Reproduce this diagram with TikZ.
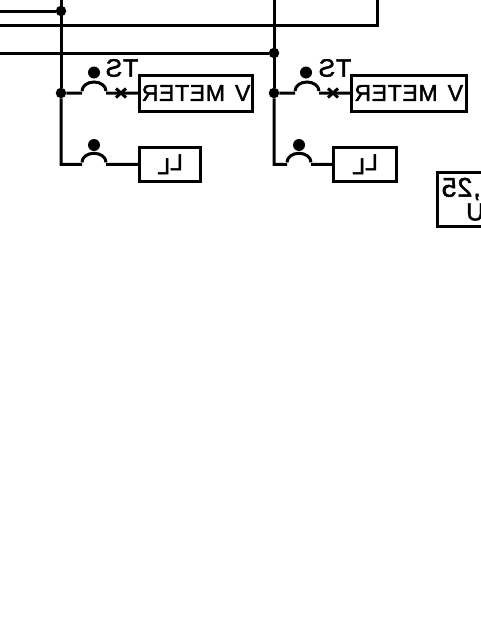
\documentclass[tikz,border=0pt]{standalone}
\usepackage{graphicx}
\usepackage{fontspec}
\usetikzlibrary{calc}
\setmainfont[FakeBold=1.6,LetterSpace=3]{Liberation Sans}
\tikzset{
  wire/.style={draw=black,line width=3pt},
  boxnode/.style={draw=black,line width=3pt,rectangle,inner sep=0pt,outer sep=0pt,anchor=north west,font=\fontsize{23}{23}\selectfont},
  junction/.style={circle,fill=black,inner sep=0pt,minimum size=10.5pt},
  lamp/.style={circle,fill=black,inner sep=0pt,minimum size=12pt},
  lbl/.style={inner sep=0pt,font=\fontsize{25}{25}\selectfont},
  biglbl/.style={inner sep=0pt,font=\fontsize{27}{27}\selectfont},
}
\newcommand{\mir}[1]{\scalebox{-1}[1]{#1}}
\begin{document}
\begin{tikzpicture}[x=1pt,y=-1pt]
\useasboundingbox (0,0) rectangle (480,640);
% junctions and free ends
\node[junction] (j1) at (61,11) {};
\node[junction] (j2) at (61,93) {};
\node[junction] (j3) at (274,53) {};
\node[junction] (j4) at (274,93) {};
\coordinate (t1) at (61,0);
\coordinate (t2) at (274,0);
\coordinate (t3) at (377,0);
\coordinate (l1) at (0,11);
\coordinate (l2) at (0,25);
\coordinate (l3) at (0,53);
\coordinate (c1) at (377,25);
\coordinate (b1) at (61,164.25);
\coordinate (b2) at (274,164.25);
% boxes
\node[boxnode,minimum width=113.5pt,minimum height=36pt] (vm1) at (139.3,75) {\mir{V\hspace{3pt} METER}};
\node[boxnode,minimum width=114.5pt,minimum height=36pt] (vm2) at (351.5,75) {\mir{V\hspace{3pt} METER}};
\node[boxnode,minimum width=61.5pt,minimum height=34.5pt] (ll1) at (139.3,147) {\mir{L\raisebox{-4pt}{L}}};
\node[boxnode,minimum width=63pt,minimum height=34.5pt] (ll2) at (333.5,147) {\mir{L\raisebox{-4pt}{L}}};
\node[boxnode,minimum width=100pt,minimum height=54pt] (bx) at (437,172.7) {};
\node[biglbl,anchor=east] (t25) at (481,189) {\mir{,25}};
\node[lbl,anchor=west] (tU) at (466,212) {\mir{U}};
% labels and lamps
\node[lbl] (ts1) at (122,68) {\mir{TS}};
\node[lbl] (ts2) at (335,68) {\mir{TS}};
\node[lamp] (d1) at (94,72.5) {};
\node[lamp] (d2) at (94,145) {};
\node[lamp] (d3) at (306,72.5) {};
\node[lamp] (d4) at (299,145) {};
% switch marks
\coordinate (x1) at (121,93);
\coordinate (x2) at (333,93);
% bus lines
\draw[wire] (t1) -- (j2);
\draw[wire] (t2) -- (j4);
\draw[wire] (l1) -- (j1);
\draw[wire] (l2) -- (c1) -- (t3);
\draw[wire] (l3) -- (j3);
% fused branches
\draw[wire] (j2) -- ++(21,0) ++(0,-2) arc[start angle=180,end angle=360,x radius=12,y radius=9] ++(0,2) -- (vm1.west);
\draw[wire] (j4) -- ++(21,0) ++(0,-2) arc[start angle=180,end angle=360,x radius=12,y radius=9] ++(0,2) -- (vm2.west);
\draw[wire] (j2) -- (b1) -- ++(21,0) ++(0,-2) arc[start angle=180,end angle=360,x radius=12,y radius=9] ++(0,2) -- (ll1.west);
\draw[wire] (j4) -- (b2) -- ++(13,0) ++(0,-2) arc[start angle=180,end angle=360,x radius=12,y radius=9] ++(0,2) -- (ll2.west);
% crosses
\draw[wire] ($(x1)+(-5,-4.5)$) -- ($(x1)+(5,4.5)$) ($(x1)+(-5,4.5)$) -- ($(x1)+(5,-4.5)$);
\draw[wire] ($(x2)+(-5,-4.5)$) -- ($(x2)+(5,4.5)$) ($(x2)+(-5,4.5)$) -- ($(x2)+(5,-4.5)$);
\end{tikzpicture}
\end{document}
